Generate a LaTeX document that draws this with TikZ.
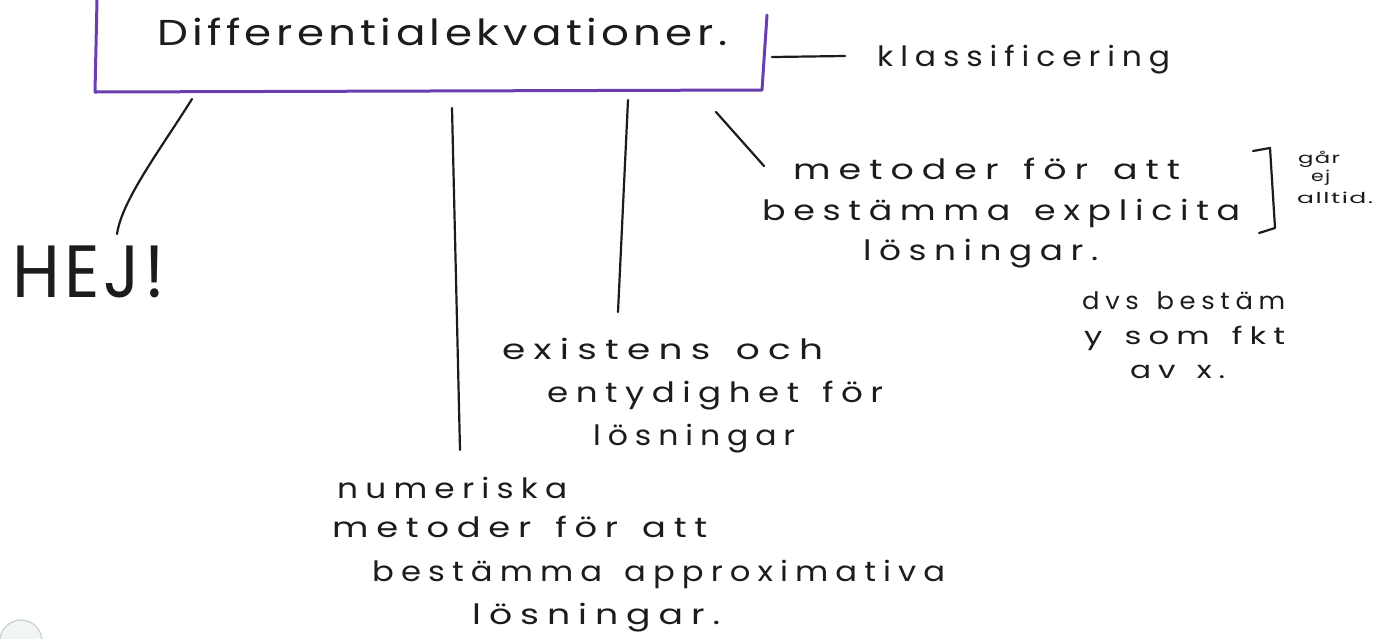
\documentclass[tikz,border=0pt]{standalone}
\usepackage{fontspec}
\setmainfont{Poppins}
\newfontfamily\handfont[LetterSpace=22, WordSpace=1.4]{Poppins}
\newfontfamily\titlefont[LetterSpace=10]{Poppins}
\newfontfamily\handplain[LetterSpace=6]{Poppins}
\definecolor{inkc}{HTML}{1C1C1C}
\definecolor{framec}{HTML}{6A3DB0}
\definecolor{holeline}{HTML}{C9D0CD}
\definecolor{holefill}{HTML}{F1F5F3}
% set a line of text to an exact width, keeping its height
\newcommand{\fitto}[2]{\resizebox{#1}{\height}{#2}}
\tikzset{
  ink/.style={draw=inkc, line width=2.2pt, line cap=round, line join=round},
  frame/.style={draw=framec, line width=3pt, line cap=round, line join=round},
  txt/.style={inner sep=0pt, anchor=base west, text=inkc},
  big/.style={txt, font=\titlefont\fontsize{36}{40}\selectfont},
  mid/.style={txt, font=\handfont\fontsize{28}{32}\selectfont},
  small/.style={txt, font=\handfont\fontsize{24}{28}\selectfont},
  tiny/.style={txt, font=\handplain\fontsize{15}{17}\selectfont},
  huge/.style={txt, font=\handplain\fontsize{74}{80}\selectfont},
}
\begin{document}
\begin{tikzpicture}[x=1pt,y=-1pt]
\useasboundingbox (0,0) rectangle (1391,638);
\fill[white] (0,0) rectangle (1391,638);

% punched hole at the lower left
\draw[draw=holeline, fill=holefill, line width=1.2pt] (21,641) circle[radius=21pt];

% title box (open at the top of the sheet)
\coordinate (boxNW) at (97,0);
\coordinate (boxSW) at (95,92);
\coordinate (boxSE) at (762,90);
\coordinate (boxNE) at (767,15);
\draw[frame] (boxNW) -- (boxSW) -- (boxSE) -- (boxNE);
\node[big] (title) at (157,45) {\fitto{570pt}{Differentialekvationer.}};

% classification remark
\node[mid] (klass) at (877,66) {\fitto{293pt}{klassificering}};
\coordinate (klassL) at (772,57);
\coordinate (klassR) at (845,56);
\draw[ink] (klassL) -- (klassR);

% greeting
\node[huge] (hej) at (12,297) {\fitto{153pt}{HEJ!}};
\coordinate (hejFrom) at (192,99);
\coordinate (hejTo) at (117,234);
\draw[ink] (hejFrom) .. controls (160,150) and (122,200) .. (hejTo);

% explicit solutions
\node[mid] (expA) at (793,179) {\fitto{387pt}{metoder för att}};
\node[mid] (expB) at (762,220) {\fitto{478pt}{bestämma explicita}};
\node[mid] (expC) at (863,260) {\fitto{235pt}{lösningar.}};
\coordinate (expFrom) at (716,112);
\coordinate (expTo) at (764,166);
\draw[ink] (expFrom) -- (expTo);

% side note with bracket
\coordinate (brTop) at (1253,151);
\coordinate (brTopR) at (1270,148);
\coordinate (brBotR) at (1275,228);
\coordinate (brBot) at (1259,233);
\draw[ink] (brTop) -- (brTopR) -- (brBotR) -- (brBot);
\node[tiny] (gar) at (1298,163) {\fitto{42pt}{går}};
\node[tiny] (ej) at (1311,181) {\fitto{19pt}{ej}};
\node[tiny] (alltid) at (1297,203) {\fitto{76pt}{alltid.}};

\node[small] (dvsA) at (1082,309) {\fitto{203pt}{dvs bestäm}};
\node[small] (dvsB) at (1084,344) {\fitto{201pt}{y som fkt}};
\node[small] (dvsC) at (1130,378) {\fitto{95pt}{av x.}};

% existence and uniqueness
\node[mid] (exiA) at (502,359) {\fitto{321pt}{existens och}};
\node[mid] (exiB) at (547,402) {\fitto{336pt}{entydighet för}};
\node[mid] (exiC) at (593,445) {\fitto{202pt}{lösningar}};
\coordinate (exiFrom) at (628,100);
\coordinate (exiTo) at (618,312);
\draw[ink] (exiFrom) -- (exiTo);

% numerical methods
\node[mid] (numA) at (337,498) {\fitto{230pt}{numeriska}};
\node[mid] (numB) at (332,537) {\fitto{375pt}{metoder för att}};
\node[mid] (numC) at (372,581) {\fitto{573pt}{bestämma approximativa}};
\node[mid] (numD) at (472,624) {\fitto{248pt}{lösningar.}};
\coordinate (numFrom) at (452,108);
\coordinate (numTo) at (460,450);
\draw[ink] (numFrom) -- (numTo);
\end{tikzpicture}
\end{document}
